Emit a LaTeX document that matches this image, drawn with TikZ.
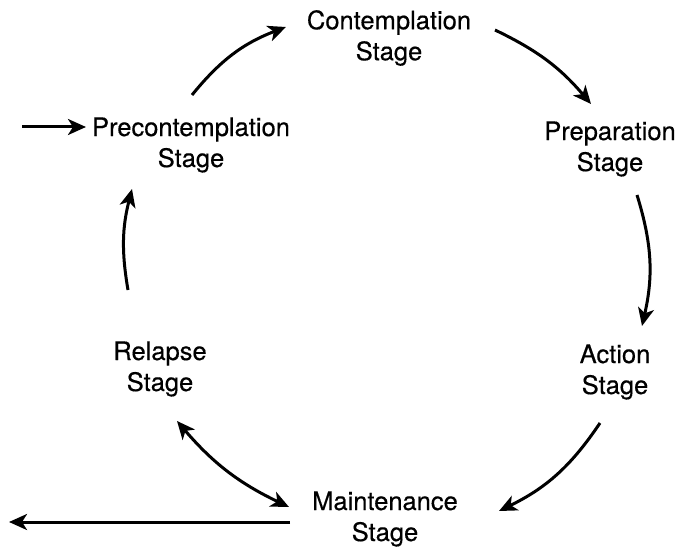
\documentclass[tikz,border=0pt]{standalone}
\usepackage{fontspec}
\setmainfont{TeX Gyre Heros}
\newfontfamily\stagefont{TeX Gyre Heros}[FakeBold=0.4]
\usetikzlibrary{arrows.meta}
\begin{document}
\begin{tikzpicture}[x=1pt,y=1pt,
  stage/.style={align=center,inner sep=0pt,font=\stagefont\fontsize{25.5}{31}\selectfont},
  tip/.tip={Stealth[length=18pt,width=16pt,inset=5pt]},
  conn/.style={line width=3pt,-tip},
  dconn/.style={line width=3pt,tip-tip}]
\useasboundingbox (0,0) rectangle (677,547);
\node[stage] (con) at (389,509) {Contemplation\\Stage};
\node[stage] (prep) at (610,398) {Preparation\\Stage};
\node[stage] (pre) at (191,402) {Precontemplation\\Stage};
\node[stage] (rel) at (160,178) {Relapse\\Stage};
\node[stage] (act) at (615,175) {Action\\Stage};
\node[stage] (main) at (385,28) {Maintenance\\Stage};
\coordinate (in) at (22,420);
\coordinate (inE) at (86,420);
\coordinate (a2s) at (192,452);
\coordinate (a2e) at (286,520);
\coordinate (a3s) at (495,517);
\coordinate (a3e) at (591,443);
\coordinate (a4s) at (637,352);
\coordinate (a4e) at (642,221);
\coordinate (a5s) at (600,124);
\coordinate (a5e) at (499,36);
\coordinate (a6s) at (177,126);
\coordinate (a6e) at (289,40);
\coordinate (a7s) at (128,257);
\coordinate (a7e) at (132,358);
\coordinate (outS) at (290,25);
\coordinate (outE) at (9,25);
\draw[conn] (in) -- (inE);
\draw[conn] (a2s) to[bend left=15] (a2e);
\draw[conn] (a3s) to[bend left=12] (a3e);
\draw[conn] (a4s) to[bend left=15] (a4e);
\draw[conn] (a5s) to[bend left=15] (a5e);
\draw[dconn] (a6s) to[bend right=12] (a6e);
\draw[conn] (a7s) to[bend left=12] (a7e);
\draw[conn] (outS) -- (outE);
\end{tikzpicture}
\end{document}
